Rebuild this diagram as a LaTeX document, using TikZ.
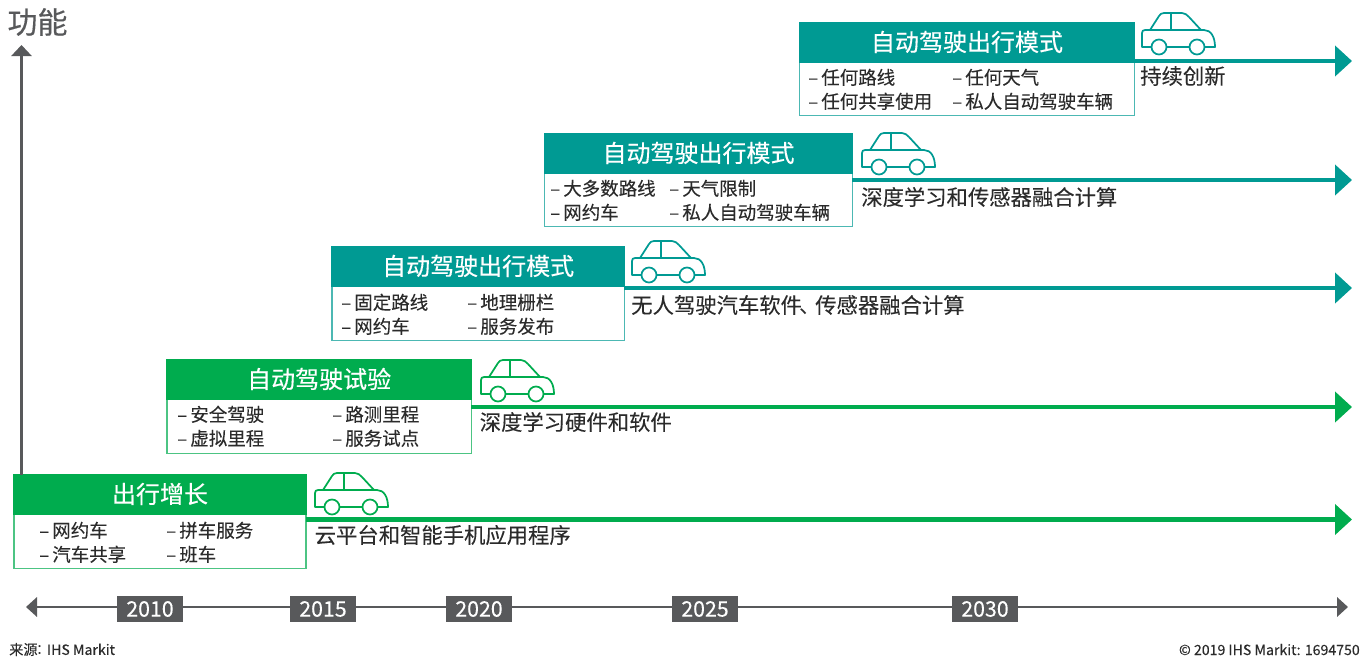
\documentclass[tikz,border=0pt]{standalone}
\usepackage{fontspec}
\setmainfont{Noto Sans CJK SC}
\newfontfamily\medfont[FakeBold=0.35]{Noto Sans CJK SC}
\newfontfamily\regfont[FakeBold=0.12]{Noto Sans CJK SC}
\newfontfamily\plainfont{Noto Sans CJK SC}
\usetikzlibrary{arrows.meta,fit}
\definecolor{cgreen}{HTML}{00AC4E}
\definecolor{cgreenl}{HTML}{4CC483}
\definecolor{cteal}{HTML}{009A93}
\definecolor{ctealL}{HTML}{4CB8B3}
\definecolor{cgrey}{HTML}{58595B}
\definecolor{ctext}{HTML}{2B2B2B}
\newcommand{\itm}[1]{\makebox[9.8pt][l]{–}#1}
\tikzset{
  x=0.75pt,y=-0.75pt,
  boxbody/.style={draw=#1,line width=1.1pt,fill=white,inner sep=0pt,outer sep=0pt},
  boxhead/.style={fill=#1,inner sep=0pt,outer sep=0pt},
  headtext/.style={text=white,font=\medfont\fontsize{18pt}{20pt}\selectfont,inner sep=0pt},
  item/.style={anchor=west,text=ctext,font=\regfont\fontsize{13.85pt}{15pt}\selectfont,inner sep=0pt},
  lab/.style={anchor=west,text=ctext,font=\regfont\fontsize{16pt}{18pt}\selectfont,inner sep=0pt},
  flow/.style={draw=#1,line width=3.7pt,-{Triangle[length=12.75pt,width=22.5pt,fill=#1]}},
  axis/.style={draw=cgrey,line width=1.9pt},
  yearbox/.style={fill=cgrey,text=white,minimum width=49.5pt,minimum height=19.5pt,inner sep=0pt,font=\regfont\fontsize{16pt}{17pt}\selectfont},
  foot/.style={text=ctext,font=\regfont\fontsize{10.6pt}{12pt}\selectfont,inner sep=0pt},
  car/.pic={
    \draw[line width=1.3pt,line join=round] (0,0) -- (0,-14) .. controls (0,-16) and (1,-17) .. (3,-17) -- (62,-17) .. controls (69,-17) and (73,-10) .. (73,0) -- cycle;
    \draw[line width=1.3pt,line join=round] (8,-17) -- (17,-31) .. controls (18,-33) and (20,-34) .. (22,-34) -- (40,-34) .. controls (43,-34) and (45,-32) .. (47,-30) -- (59,-17);
    \draw[line width=1.3pt] (29,-34) -- (29,-17);
    \draw[line width=1.3pt,fill=white] (17,0) circle[radius=7.5];
    \draw[line width=1.3pt,fill=white] (55,0) circle[radius=7.5];
  }
}
\begin{document}
\begin{tikzpicture}
\useasboundingbox (0,0) rectangle (1360,665);
% free ends
\coordinate (e1) at (1352,519.5);
\coordinate (e2) at (1352,407);
\coordinate (e3) at (1352,288);
\coordinate (e4) at (1352,180);
\coordinate (e5) at (1352,61);
\coordinate (topend) at (21.5,45);
\coordinate (tl) at (26,607);
\coordinate (tr) at (1348,607);

% axis
\node[foot,text=cgrey,font=\medfont\fontsize{22.5pt}{25pt}\selectfont,anchor=center] (axtitle) at (37.5,22) {功能};

% stage 1
\node[boxbody=cgreenl,fit={(14,474.7)(306,568.6)}] (b1) {};
\node[boxhead=cgreen,fit={(13.3,474)(306.7,515)}] (h1) {};
\node[headtext] (t1) at ([yshift=0.4pt]h1.center) {出行增长};
\node[item] (i1a) at (39,530.3) {\itm{网约车}};
\node[item] (i1b) at (166,530.3) {\itm{拼车服务}};
\node[item] (i1c) at (39,554.3) {\itm{汽车共享}};
\node[item] (i1d) at (166,554.3) {\itm{班车}};
\node[lab] (l1) at (314.5,535) {云平台和智能手机应用程序};
\pic[color=cgreen] (car1) at (315,507) {car};
\draw[flow=cgreen] (b1.east |- e1) -- (e1);

% stage 2
\node[boxbody=cgreenl,fit={(167,359.7)(471.3,453.6)}] (b2) {};
\node[boxhead=cgreen,fit={(166.3,359)(472,400)}] (h2) {};
\node[headtext] (t2) at ([yshift=0.4pt]h2.center) {自动驾驶试验};
\node[item] (i2a) at (177,414.3) {\itm{安全驾驶}};
\node[item] (i2b) at (332,414.3) {\itm{路测里程}};
\node[item] (i2c) at (177,438.3) {\itm{虚拟里程}};
\node[item] (i2d) at (332,438.3) {\itm{服务试点}};
\node[lab] (l2) at (479.5,422) {深度学习硬件和软件};
\pic[color=cgreen] (car2) at (481,394) {car};
\draw[flow=cgreen] (b2.east |- e2) -- (e2);

% stage 3
\node[boxbody=ctealL,fit={(332,246.7)(624.3,340.6)}] (b3) {};
\node[boxhead=cteal,fit={(331.3,246)(625,287)}] (h3) {};
\node[headtext] (t3) at ([yshift=0.4pt]h3.center) {自动驾驶出行模式};
\node[item] (i3a) at (341,302.3) {\itm{固定路线}};
\node[item] (i3b) at (467,302.3) {\itm{地理栅栏}};
\node[item] (i3c) at (341,326.3) {\itm{网约车}};
\node[item] (i3d) at (467,326.3) {\itm{服务发布}};
\node[lab] (l3) at (631,305) {无人驾驶汽车软件{\plainfont\hspace{-2pt}、\hspace{-4pt}}传感器融合计算};
\pic[color=cteal] (car3) at (632,275) {car};
\draw[flow=cteal] (b3.east |- e3) -- (e3);

% stage 4
\node[boxbody=ctealL,fit={(544.7,133.7)(852.3,226.6)}] (b4) {};
\node[boxhead=cteal,fit={(544,133)(853,174)}] (h4) {};
\node[headtext] (t4) at ([yshift=0.4pt]h4.center) {自动驾驶出行模式};
\node[item] (i4a) at (550,188.3) {\itm{大多数路线}};
\node[item] (i4b) at (669,188.3) {\itm{天气限制}};
\node[item] (i4c) at (550,212.3) {\itm{网约车}};
\node[item] (i4d) at (669,212.3) {\itm{私人自动驾驶车辆}};
\node[lab] (l4) at (861,197) {深度学习和传感器融合计算};
\pic[color=cteal] (car4) at (862,167) {car};
\draw[flow=cteal] (b4.east |- e4) -- (e4);

% stage 5
\node[boxbody=ctealL,fit={(799.7,22.7)(1134.3,115.6)}] (b5) {};
\node[boxhead=cteal,fit={(799,22)(1135,63)}] (h5) {};
\node[headtext] (t5) at ([yshift=0.4pt]h5.center) {自动驾驶出行模式};
\node[item] (i5a) at (808,77.3) {\itm{任何路线}};
\node[item] (i5b) at (952,77.3) {\itm{任何天气}};
\node[item] (i5c) at (808,101.3) {\itm{任何共享使用}};
\node[item] (i5d) at (952,101.3) {\itm{私人自动驾驶车辆}};
\node[lab] (l5) at (1140,76) {持续创新};
\pic[color=cteal] (car5) at (1142,47) {car};
\draw[flow=cteal] (b5.east |- e5) -- (e5);

% vertical axis
\draw[axis,-{Triangle[length=8.25pt,width=15pt,fill=cgrey]}] (topend |- b1.north) -- (topend);

% timeline
\draw[axis,{Triangle[length=8.25pt,width=14.5pt,fill=cgrey]}-{Triangle[length=8.25pt,width=14.5pt,fill=cgrey]}] (tl) -- (tr);
\node[yearbox] (y1) at (150,609) {2010};
\node[yearbox] (y2) at (323,609) {2015};
\node[yearbox] (y3) at (479,609) {2020};
\node[yearbox] (y4) at (705,609) {2025};
\node[yearbox] (y5) at (985,609) {2030};

% footer
\node[foot,anchor=west] (src) at (9,649.5) {来源{\plainfont\hspace{-1pt}：\hspace{-2.5pt}}IHS Markit};
\node[foot,anchor=east] (copy) at (1360,649.5) {© 2019 IHS Markit: 1694750};
\end{tikzpicture}
\end{document}
